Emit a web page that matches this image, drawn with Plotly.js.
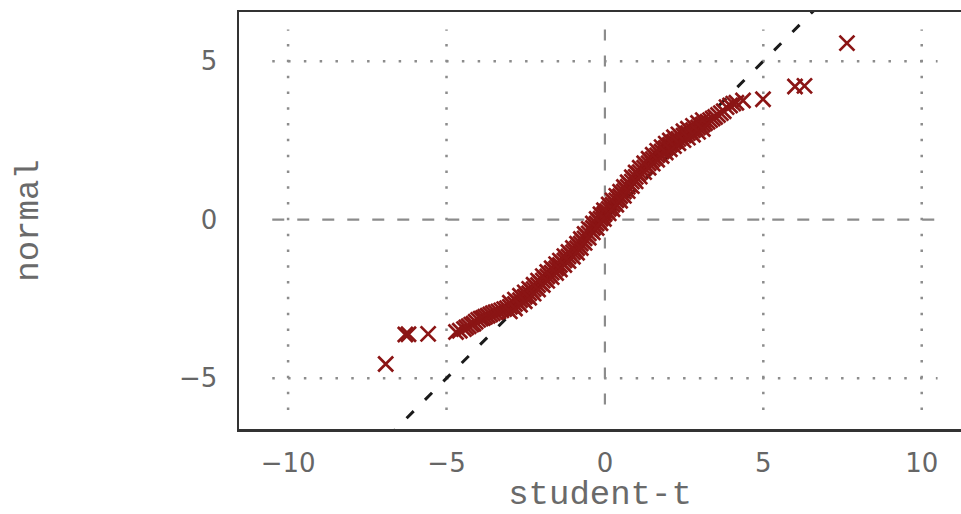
<!DOCTYPE html>
<html><head><meta charset="utf-8">
<script src="https://cdn.plot.ly/plotly-3.0.1.min.js"></script>
<style>html,body{margin:0;padding:0;background:#fff}#chart{width:961px;height:514px}</style>
</head><body><div id="chart"></div>
<script>
// Sample quantiles (x: student-t, y: normal)
const studentT = [-6.92,-6.30,-6.20,-5.58,-4.70,-4.58,
-4.45,-4.38,-4.30,-4.22,-4.15,-4.08,-4.00,
-3.92,-3.85,-3.78,-3.70,-3.62,-3.54,
-3.45,-3.36,-3.27,-3.18,-3.09,-3.00,
-2.92,-2.84,-2.76,-2.68,-2.60,-2.53,-2.46,
-2.39,-2.32,-2.25,-2.18,-2.11,-2.04,-1.96,
-1.89,-1.82,-1.75,-1.68,-1.61,-1.54,-1.48,-1.42,
-1.35,-1.28,-1.22,-1.15,-1.08,-1.01,-0.95,-0.88,
-0.82,-0.76,-0.70,-0.64,-0.57,-0.51,-0.44,-0.38,
-0.32,-0.26,-0.20,-0.14,-0.08,-0.03,0.00,
0.06,0.12,0.18,0.24,0.30,0.36,0.42,0.48,0.54,
0.60,0.66,0.72,0.78,0.85,0.91,0.97,1.04,
1.10,1.17,1.24,1.31,1.38,1.45,1.51,1.58,
1.65,1.72,1.79,1.86,1.92,1.99,2.05,2.11,
2.18,2.25,2.32,2.40,2.48,2.55,2.62,
2.70,2.78,2.86,2.94,3.02,3.09,3.16,
3.24,3.32,3.40,3.48,3.57,
3.66,3.75,3.84,3.95,4.05,4.15,4.36,4.99,6.00,6.30,7.64];
const normal = [-4.55,-3.62,-3.61,-3.60,-3.54,-3.50,
-3.45,-3.40,-3.36,-3.31,-3.28,-3.22,-3.16,
-3.12,-3.10,-3.06,-3.03,-2.99,-2.95,
-2.92,-2.89,-2.86,-2.82,-2.79,-2.75,
-2.71,-2.66,-2.60,-2.54,-2.48,-2.43,-2.38,
-2.32,-2.25,-2.19,-2.12,-2.06,-1.99,-1.92,
-1.86,-1.79,-1.73,-1.67,-1.60,-1.54,-1.48,-1.43,
-1.36,-1.29,-1.23,-1.16,-1.10,-1.03,-0.97,-0.90,
-0.83,-0.75,-0.67,-0.59,-0.51,-0.43,-0.34,-0.26,
-0.19,-0.12,-0.04,0.03,0.10,0.16,0.20,
0.27,0.34,0.41,0.47,0.54,0.61,0.68,0.74,0.81,
0.89,0.96,1.04,1.11,1.20,1.28,1.35,1.44,
1.50,1.57,1.64,1.71,1.78,1.85,1.91,1.97,
2.03,2.09,2.15,2.21,2.26,2.31,2.36,2.41,
2.46,2.50,2.55,2.60,2.65,2.69,2.73,
2.78,2.82,2.87,2.91,2.96,3.00,3.04,
3.09,3.14,3.19,3.24,3.30,
3.36,3.42,3.55,3.60,3.66,3.69,3.76,3.80,4.20,4.22,5.57];
// points read along the upper and lower edges of the dense band
const bandUpperT = [-3.00,-2.84,-2.68,-2.53,-2.39,-2.25,-2.11,-1.96,-1.82,-1.68,-1.54,-1.42,-1.28,-1.15,-1.01,-0.88,
-0.76,-0.64,-0.51,-0.38,-0.26,-0.14,-0.03,0.12,0.24,0.36,0.48,0.60,0.72,0.85,0.97,1.10,1.24,1.38,1.51,1.65,1.79,1.92,
2.05,2.18,2.32,2.48,2.62,2.78,2.94,3.09];
const bandUpperN = [-2.62,-2.52,-2.40,-2.29,-2.18,-2.05,-1.92,-1.78,-1.65,-1.53,-1.40,-1.29,-1.15,-1.02,-0.89,-0.76,
-0.61,-0.45,-0.29,-0.12,0.02,0.17,0.30,0.48,0.61,0.75,0.88,1.03,1.18,1.34,1.49,1.64,1.78,1.92,2.05,2.17,2.29,2.40,
2.50,2.60,2.69,2.79,2.87,2.96,3.05,3.14];
const bandLowerT = [-3.00,-2.84,-2.68,-2.53,-2.39,-2.25,-2.11,-1.96,-1.82,-1.68,-1.54,-1.42,-1.28,-1.15,-1.01,-0.88,
-0.76,-0.64,-0.51,-0.38,-0.26,-0.14,-0.03,0.12,0.24,0.36,0.48,0.60,0.72,0.85,0.97,1.10,1.24,1.38,1.51,1.65,1.79,1.92,
2.05,2.18,2.32,2.48,2.62,2.78,2.94,3.09];
const bandLowerN = [-2.89,-2.80,-2.68,-2.57,-2.46,-2.33,-2.20,-2.06,-1.93,-1.81,-1.68,-1.57,-1.43,-1.30,-1.17,-1.04,
-0.89,-0.73,-0.57,-0.40,-0.26,-0.11,0.02,0.20,0.33,0.47,0.60,0.75,0.90,1.06,1.21,1.36,1.50,1.64,1.77,1.89,2.01,2.12,
2.22,2.32,2.41,2.51,2.59,2.68,2.77,2.86];
const xTicks = [-10, -5, 0, 5, 10];
const yTicks = [-5, 0, 5];
const refLine = [-8, 8];          // y = x reference
const gridX = [-10, -5, 5, 10];
const gridY = [-5, 5];
const gridXSpan = [-10.5, 10.5];
const gridYSpan = [-6, 6];

const red = '#8b1515';
const allT = studentT.concat(bandUpperT, bandLowerT);
const allN = normal.concat(bandUpperN, bandLowerN);
const traces = [
  {x: refLine, y: refLine, type: 'scatter', mode: 'lines',
   line: {color: '#1a1a1a', width: 3, dash: '10px,16px'}, hoverinfo: 'skip', showlegend: false},
  {x: allT, y: allN, type: 'scatter', mode: 'markers',
   marker: {symbol: 'x-thin', size: 15, color: red, line: {width: 2.7, color: red}},
   hoverinfo: 'skip', showlegend: false}
];

const shapes = [];
gridX.forEach(g => shapes.push({type: 'line', xref: 'x', yref: 'y', x0: g, x1: g, y0: gridYSpan[0], y1: gridYSpan[1],
  layer: 'below', line: {color: '#8c8c8c', width: 2.5, dash: '2.5px,13.3px'}}));
gridY.forEach(g => shapes.push({type: 'line', xref: 'x', yref: 'y', y0: g, y1: g, x0: gridXSpan[0], x1: gridXSpan[1],
  layer: 'below', line: {color: '#8c8c8c', width: 2.5, dash: '2.5px,13.3px'}}));
shapes.push({type: 'line', xref: 'x', yref: 'y', x0: 0, x1: 0, y0: gridYSpan[1], y1: gridYSpan[0],
  layer: 'below', line: {color: '#8c8c8c', width: 2.2, dash: '11px,15px'}});
shapes.push({type: 'line', xref: 'x', yref: 'y', y0: 0, y1: 0, x0: gridXSpan[0], x1: gridXSpan[1],
  layer: 'below', line: {color: '#8c8c8c', width: 2.2, dash: '12px,13px'}});

const tickFont = {family: 'DejaVu Sans', size: 26, color: '#666'};
const titleFont = {family: 'Liberation Mono', size: 34, color: '#6a6a6a'};

const layout = {
  width: 961, height: 514,
  margin: {l: 239, r: 0, t: 12, b: 85},
  paper_bgcolor: '#fff', plot_bgcolor: '#fff',
  showlegend: false,
  xaxis: {range: [-11.55, 11.24], tickvals: xTicks, ticktext: xTicks.map(v => v < 0 ? '\u2212' + Math.abs(v) : String(v)),
    showgrid: false, zeroline: false, showline: true, mirror: true, linecolor: '#333', linewidth: 2.5,
    ticks: '', ticklabelstandoff: 9, tickfont: tickFont,
    title: {text: 'student-t', font: titleFont, standoff: 20}},
  yaxis: {range: [-6.60, 6.55], tickvals: yTicks, ticktext: yTicks.map(v => v < 0 ? '\u2212' + Math.abs(v) : String(v)),
    showgrid: false, zeroline: false, showline: true, mirror: false, linecolor: '#333', linewidth: 2.5,
    ticks: '', ticklabelstandoff: 14, tickfont: tickFont,
    title: {text: 'normal', font: titleFont, standoff: 130}},
  shapes: shapes
};
Plotly.newPlot('chart', traces, layout, {staticPlot: true, displayModeBar: false});
</script>
</body></html>
